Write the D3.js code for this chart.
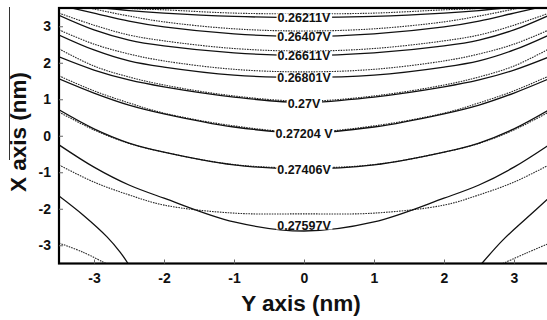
<!DOCTYPE html>
<html>
<head>
<meta charset="utf-8">
<script src="https://cdn.jsdelivr.net/npm/d3@7"></script>
<style>
  html, body { margin: 0; padding: 0; background: #fff; }
  svg { display: block; }
  text { font-family: "Liberation Sans", Arial, sans-serif; font-weight: bold; fill: #111; }
</style>
</head>
<body>
<svg id="chart" width="547" height="320"></svg>
<script>
// ---------- data ----------
const xTicks = [-3, -2, -1, 0, 1, 2, 3];
const yTicks = [-3, -2, -1, 0, 1, 2, 3];
const levelLabels = ["0.26211V", "0.26407V", "0.26611V", "0.26801V", "0.27V", "0.27204 V", "0.27406V", "0.27597V"];
const sampleX = [-3.5, -3, -2.5, -2, -1, 0, 1, 2, 2.5, 3, 3.5];

// solid contours (y at each sampleX)
const solid26211 = [3.64, 3.53, 3.43, 3.36, 3.27, 3.24, 3.27, 3.36, 3.43, 3.53, 3.64];
const solid26407 = [3.58, 3.36, 3.14, 2.98, 2.79, 2.72, 2.79, 2.98, 3.14, 3.36, 3.58];
const solid26611 = [3.30, 2.90, 2.62, 2.46, 2.27, 2.20, 2.27, 2.46, 2.62, 2.90, 3.30];
const solid26801 = [2.76, 2.35, 2.05, 1.88, 1.66, 1.60, 1.66, 1.88, 2.05, 2.35, 2.76];
const solid27000 = [2.16, 1.80, 1.53, 1.34, 1.06, 0.91, 1.06, 1.34, 1.53, 1.80, 2.16];
const solid27204 = [1.56, 1.17, 0.84, 0.60, 0.24, 0.08, 0.24, 0.60, 0.84, 1.17, 1.56];
const solid27406 = [0.71, 0.19, -0.20, -0.45, -0.80, -0.91, -0.80, -0.45, -0.20, 0.19, 0.71];
const solid27597 = [-0.25, -0.86, -1.35, -1.71, -2.36, -2.61, -2.36, -1.71, -1.35, -0.86, -0.25];

// dashed contours (y at each sampleX)
const dashed26211 = [3.69, 3.58, 3.49, 3.45, 3.36, 3.34, 3.36, 3.45, 3.49, 3.58, 3.69];
const dashed26407 = [3.66, 3.47, 3.28, 3.12, 2.93, 2.87, 2.93, 3.12, 3.28, 3.47, 3.66];
const dashed26611 = [3.36, 3.03, 2.76, 2.60, 2.39, 2.32, 2.39, 2.60, 2.76, 3.03, 3.36];
const dashed26801 = [2.90, 2.51, 2.24, 2.05, 1.82, 1.75, 1.82, 2.05, 2.24, 2.51, 2.90];
const dashed27000 = [2.38, 1.91, 1.61, 1.39, 1.09, 0.95, 1.09, 1.39, 1.61, 1.91, 2.38];
const dashed27204 = [1.64, 1.23, 0.90, 0.62, 0.27, 0.10, 0.27, 0.62, 0.90, 1.23, 1.64];
const dashed27406 = [0.65, 0.16, -0.21, -0.45, -0.79, -0.88, -0.79, -0.45, -0.21, 0.16, 0.65];
const dashed27597 = [-0.80, -1.27, -1.62, -1.90, -2.12, -2.14, -2.12, -1.90, -1.62, -1.27, -0.80];

// corner branches
const cornerLeftSolidX = [-3.5, -3.157, -2.814, -2.63, -2.514];
const cornerLeftSolidY = [-1.65, -2.17, -2.77, -3.18, -3.5];
const cornerLeftDashX = [-3.5, -3.157, -2.83];
const cornerLeftDashY = [-2.94, -3.19, -3.5];
const cornerRightSolidX = [2.54, 2.84, 3.19, 3.5];
const cornerRightSolidY = [-3.5, -2.86, -2.24, -1.70];
const cornerRightDashX = [2.84, 3.17, 3.5];
const cornerRightDashY = [-3.5, -3.22, -2.95];

const solidSeries = [solid26211, solid26407, solid26611, solid26801, solid27000, solid27204, solid27406, solid27597];
const dashedSeries = [dashed26211, dashed26407, dashed26611, dashed26801, dashed27000, dashed27204, dashed27406, dashed27597];

// ---------- drawing ----------
const svg = d3.select("#chart");
const x = d3.scaleLinear().domain([-3.5, 3.5]).range([59, 549]);
const y = d3.scaleLinear().domain([-3.5, 3.5]).range([263.5, 8]);

svg.append("defs").append("clipPath").attr("id", "plotclip")
  .append("rect").attr("x", x(-3.5)).attr("y", y(3.5))
  .attr("width", x(3.5) - x(-3.5)).attr("height", y(-3.5) - y(3.5));

const plot = svg.append("g").attr("clip-path", "url(#plotclip)");

const line = d3.line().x(d => x(d[0])).y(d => y(d[1])).curve(d3.curveCatmullRom.alpha(0.5));
const zip = (xs, ys) => xs.map((v, i) => [v, ys[i]]);

const dashStyle = sel => sel.attr("fill", "none").attr("stroke", "#2a2a2a")
  .attr("stroke-width", 1.1).attr("stroke-dasharray", "1.6,1");
const solidStyle = sel => sel.attr("fill", "none").attr("stroke", "#111").attr("stroke-width", 1.3);

dashedSeries.forEach(ys => plot.append("path").attr("d", line(zip(sampleX, ys))).call(dashStyle));
solidSeries.forEach(ys => plot.append("path").attr("d", line(zip(sampleX, ys))).call(solidStyle));
[[cornerLeftSolidX, cornerLeftSolidY], [cornerRightSolidX, cornerRightSolidY]].forEach(([xs, ys]) =>
  plot.append("path").attr("d", line(zip(xs, ys))).call(solidStyle));
[[cornerLeftDashX, cornerLeftDashY], [cornerRightDashX, cornerRightDashY]].forEach(([xs, ys]) =>
  plot.append("path").attr("d", line(zip(xs, ys))).call(dashStyle));

// contour labels, centred on the solid line at x = 0
const centerIdx = sampleX.indexOf(0);
levelLabels.forEach((lab, i) => {
  const cy = y(solidSeries[i][centerIdx]) + (i === 7 ? -6 : 0.5);
  const g = plot.append("g");
  const t = g.append("text").attr("x", x(0)).attr("y", cy).attr("dy", "0.36em")
    .attr("text-anchor", "middle").style("font-size", "12.5px").text(lab);
  const bb = t.node().getBBox();
  g.insert("rect", "text").attr("x", bb.x - 1).attr("y", cy - 4.5)
    .attr("width", bb.width + 2).attr("height", 9).attr("fill", "#fff");
});

// frame
svg.append("rect").attr("x", x(-3.5)).attr("y", y(3.5))
  .attr("width", x(3.5) - x(-3.5)).attr("height", y(-3.5) - y(3.5))
  .attr("fill", "none").attr("stroke", "#000").attr("stroke-width", 2.2);

// axes with inward ticks
const xAxis = d3.axisBottom(x).tickValues(xTicks).tickSize(-4).tickPadding(10).tickFormat(d3.format("d"));
const yAxis = d3.axisLeft(y).tickValues(yTicks).tickSize(-4).tickPadding(8).tickFormat(d3.format("d"));

const gx = svg.append("g").attr("transform", `translate(0,${y(-3.5)})`).call(xAxis);
const gy = svg.append("g").attr("transform", `translate(${x(-3.5)},0)`).call(yAxis);
[gx, gy].forEach(g => {
  g.select(".domain").remove();
  g.selectAll(".tick line").attr("stroke", "#666").attr("stroke-width", 1);
  g.selectAll(".tick text").style("font-size", "14px").style("font-family", "Liberation Sans, Arial, sans-serif")
    .style("font-weight", "bold").attr("fill", "#111");
});
gx.selectAll(".tick text").text(d => d < 0 ? "-" + Math.abs(d) : d);
gy.selectAll(".tick text").text(d => d < 0 ? "-" + Math.abs(d) : d);

// axis titles
svg.append("text").attr("x", 301).attr("y", 311).attr("text-anchor", "middle")
  .style("font-size", "22.5px").text("Y axis (nm)");
svg.append("text").attr("transform", "translate(26,132) rotate(-90)").attr("text-anchor", "middle")
  .style("font-size", "22.5px").text("X axis (nm)");

// thin stray rule at far left (present in the reference)
svg.append("line").attr("x1", 9.5).attr("x2", 9.5).attr("y1", 7).attr("y2", 160)
  .attr("stroke", "#333").attr("stroke-width", 1);
</script>
</body>
</html>
